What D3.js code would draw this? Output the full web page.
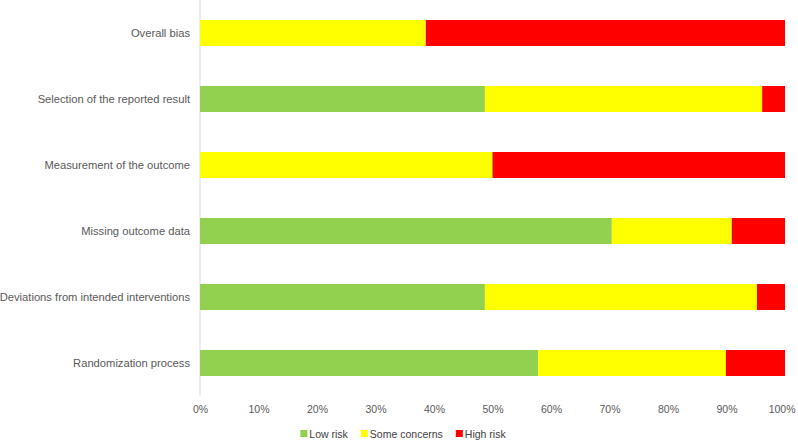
<!DOCTYPE html>
<html><head><meta charset="utf-8">
<script src="https://cdn.jsdelivr.net/npm/d3@7"></script>
<style>body{margin:0;background:#fff;} text{font-family:"Liberation Sans",Arial,sans-serif;}</style>
</head><body><svg id="c" width="798" height="440"></svg>
<script>
const categories = ["Overall bias","Selection of the reported result","Measurement of the outcome","Missing outcome data","Deviations from intended interventions","Randomization process"];
const lowRisk = [0, 48.7, 0, 70.4, 48.7, 57.8];
const someConcerns = [38.6, 47.4, 50.0, 20.5, 46.5, 32.1];
const highRisk = [61.4, 3.9, 50.0, 9.1, 4.8, 10.1];
const seriesNames = ["Low risk","Some concerns","High risk"];
const colors = ["#92d050","#ffff00","#ff0000"];
const tickValues = [0,10,20,30,40,50,60,70,80,90,100];

const rows = categories.map((c,i)=>({cat:c, "Low risk":lowRisk[i], "Some concerns":someConcerns[i], "High risk":highRisk[i]}));
const stack = d3.stack().keys(seriesNames)(rows);

const svg = d3.select("#c");
const m = {left:200, right:13, top:0, bottom:44};
const W = 798, H = 440;
const x = d3.scaleLinear().domain([0,100]).range([m.left, W-m.right]);
const y = d3.scaleBand().domain(categories).range([0, 396]).paddingInner(0.606).paddingOuter(0.303);

svg.append("line").attr("x1",x(0)).attr("x2",x(0)).attr("y1",0).attr("y2",396).attr("stroke","#d9d9d9");

svg.selectAll("g.s").data(stack).join("g").attr("fill",(d,i)=>colors[i])
  .selectAll("rect").data(d=>d).join("rect")
  .attr("x",d=>x(d[0])).attr("width",d=>x(d[1])-x(d[0]))
  .attr("y",d=>y(d.data.cat)).attr("height",y.bandwidth());

svg.selectAll("text.cat").data(categories).join("text").attr("class","cat")
  .attr("x",190).attr("y",d=>y(d)+y.bandwidth()/2).attr("dy","0.35em")
  .attr("text-anchor","end").attr("font-size",11.2).attr("fill","#595959").text(d=>d);

const ax = svg.append("g").attr("transform","translate(0,400)")
  .call(d3.axisBottom(x).tickValues(tickValues).tickFormat(d=>d+"%").tickSize(0).tickPadding(6));
ax.select(".domain").remove();
ax.selectAll("text").attr("font-size",10.5).attr("fill","#595959").attr("font-family","Liberation Sans, Arial, sans-serif");
ax.selectAll(".tick").filter(d=>d===100).select("text").attr("text-anchor","end").attr("dx","10");

// legend laid out sequentially
const legG = svg.append("g");
let cx = 0;
seriesNames.forEach((n,i)=>{
  const g = legG.append("g").attr("transform",`translate(${cx},0)`);
  g.append("rect").attr("x",0).attr("y",-4).attr("width",7).attr("height",7).attr("fill",colors[i]);
  const t = g.append("text").attr("x",9).attr("y",0).attr("dy","0.35em").attr("font-size",10.5).attr("fill","#404040").text(n);
  cx += 9 + t.node().getComputedTextLength() + 13;
});
const legW = cx - 13;
legG.attr("transform",`translate(${403 - legW/2},434)`);
</script></body></html>
